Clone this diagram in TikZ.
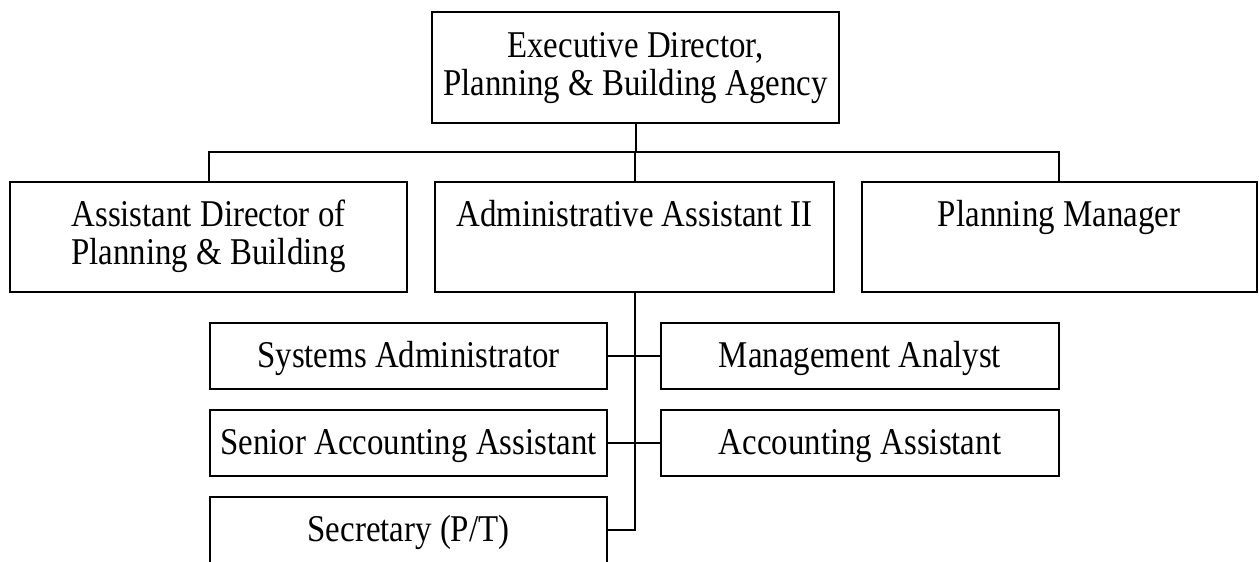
\documentclass[tikz,border=0pt]{standalone}
\usepackage{fontspec}
\setmainfont{Liberation Serif}[FakeStretch=0.87]
\begin{document}
\begin{tikzpicture}[x=1pt,y=-1pt,
  box/.style={draw, line width=2pt, rectangle, inner sep=0pt},
  txt/.style={inner sep=0pt, align=center, font=\fontsize{37.8}{38}\selectfont},
  link/.style={line width=2pt}]
\useasboundingbox (0,0) rectangle (1259,562);
\clip (0,0) rectangle (1259,562);

% boxes
\node[box, minimum width=407pt, minimum height=111pt] (top) at (635.5,67.5) {};
\node[box, minimum width=397pt, minimum height=110pt] (asst) at (208.5,237) {};
\node[box, minimum width=399pt, minimum height=110pt] (admin) at (634.5,237) {};
\node[box, minimum width=395pt, minimum height=110pt] (pm) at (1059,237) {};
\node[box, minimum width=397pt, minimum height=66pt] (sys) at (408.5,356) {};
\node[box, minimum width=397pt, minimum height=66pt] (sen) at (408.5,443) {};
\node[box, minimum width=397pt, minimum height=66pt] (sec) at (408.5,530) {};
\node[box, minimum width=398pt, minimum height=66pt] (ma) at (860,356) {};
\node[box, minimum width=398pt, minimum height=66pt] (aa) at (860,443) {};

% labels (base anchor sits on the last line of a multi-line label)
\node[txt, anchor=base] (top-t) at (635.5,95) {Executive Director,\\Planning \& Building Agency};
\node[txt, anchor=base] (asst-t) at (208.5,264) {Assistant Director of\\Planning \& Building};
\node[txt, anchor=base] (admin-t) at (634.5,226) {Administrative Assistant II};
\node[txt, anchor=base] (pm-t) at (1059,226) {Planning Manager};
\node[txt, anchor=base] (sys-t) at (408.5,367) {Systems Administrator};
\node[txt, anchor=base] (sen-t) at (408.5,454) {Senior Accounting Assistant};
\node[txt, anchor=base] (sec-t) at (408.5,541) {Secretary (P/T)};
\node[txt, anchor=base] (ma-t) at (860,367) {Management Analyst};
\node[txt, anchor=base] (aa-t) at (860,454) {Accounting Assistant};

% connectors
\coordinate (bus) at (635.5,152);
\draw[link] (top.south) -- (bus);
\draw[link] (asst.north) -- (asst.north |- bus) -- (pm.north |- bus) -- (pm.north);
\draw[link] (admin.north) -- (admin.north |- bus);
\draw[link] (admin.south) -- (admin.south |- sec.east) -- (sec.east);
\draw[link] (sys.east) -- (ma.west);
\draw[link] (sen.east) -- (aa.west);
\end{tikzpicture}
\end{document}
